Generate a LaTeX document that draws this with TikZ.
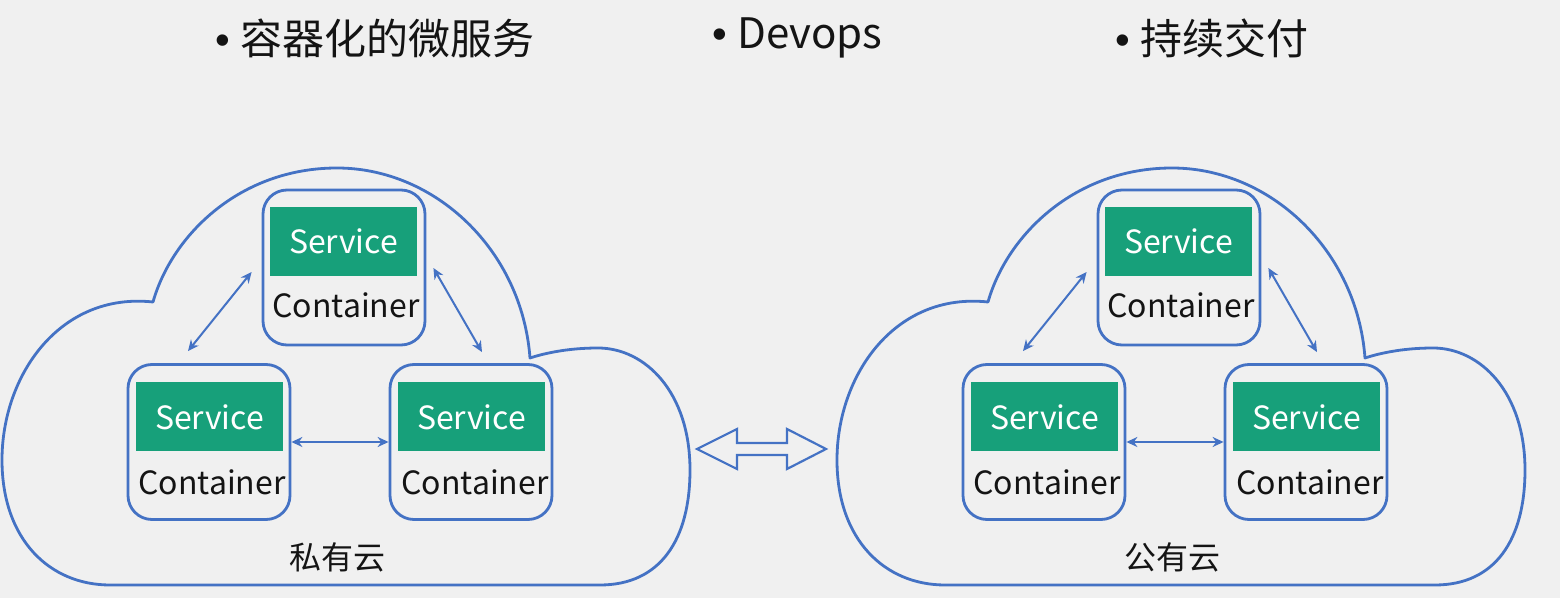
\documentclass[tikz,border=0pt]{standalone}
\usepackage{fontspec}
\setmainfont{Noto Sans CJK SC}
\newfontfamily\bulfont{Liberation Sans}
\usetikzlibrary{arrows.meta,calc}
\definecolor{bg}{HTML}{F0F0F0}
\definecolor{cblue}{HTML}{4472C4}
\definecolor{sgreen}{HTML}{17A07A}
\definecolor{ink}{HTML}{141414}
\newcommand\bigbul{{\bulfont •}\hspace{5pt}}
\tikzset{
 cloudline/.style={draw=cblue, line width=1.4pt, line join=round},
 box/.style={draw=cblue, line width=1.4pt, rounded corners=12pt, minimum width=81pt, minimum height=77.5pt, inner sep=0pt},
 svc/.style={fill=sgreen, text=white, minimum width=73.5pt, minimum height=34.5pt, inner sep=0pt, font=\fontsize{16}{19}\selectfont},
 ctext/.style={font=\fontsize{16}{19}\selectfont, text=ink, inner sep=0pt},
 link/.style={draw=cblue, line width=1pt, {Stealth[length=5.5pt,width=5pt]}-{Stealth[length=5.5pt,width=5pt]}},
 title/.style={font=\fontsize{21}{25}\selectfont, text=ink, anchor=west, inner sep=0pt},
 cloudlabel/.style={font=\fontsize{16}{19}\selectfont, text=ink, inner sep=0pt},
 blockarrow/.style={draw=cblue, line width=1.1pt, line join=miter},
}
\newcommand\mycloud[3]{%
 \begin{scope}[xshift=#1]
  \path[cloudline] (110,585) -- (600,585)
   .. controls (660,585) and (690,540) .. (690,470)
   .. controls (690,392) and (645,348) .. (598,348)
   .. controls (566,348) and (542,354) .. (530,358)
   .. controls (522,250) and (435,168) .. (337,168)
   .. controls (240,168) and (172,235) .. (153,302)
   .. controls (60,292) and (2,375) .. (2,460)
   .. controls (2,540) and (50,585) .. (110,585) -- cycle;
  \node[box] (#2top) at (344,267.5) {};
  \node[box] (#2bl) at (209,442) {};
  \node[box] (#2br) at (471,442) {};
  \node[svc] (#2topS) at (343.5,241.5) {Service};
  \node[svc] (#2blS) at (209.5,417) {Service};
  \node[svc] (#2brS) at (471.5,417) {Service};
  \node[ctext] (#2topC) at (346,305) {Container};
  \node[ctext] (#2blC) at (212,482) {Container};
  \node[ctext] (#2brC) at (475,482) {Container};
  \draw[link] ($(#2top.west)+(-10,4.5)$) -- ($(#2bl.north)+(-21,-12)$);
  \draw[link] ($(#2top.east)+(7,0.5)$) -- ($(#2br.north)+(11,-11)$);
  \draw[link] (#2bl.east) -- (#2br.west);
  \node[cloudlabel] (#2lab) at (337,557) {#3};
 \end{scope}}
\begin{document}
\begin{tikzpicture}[x=0.5pt,y=-0.5pt]
\fill[bg] (0,0) rectangle (1560,598);
\useasboundingbox (0,0) rectangle (1560,598);
\node[title] (t1) at (215,38) {\bigbul 容器化的微服务};
\node[title] (t2) at (712,38) {\bigbul Devops};
\node[title] (t3) at (1115,38) {\bigbul 持续交付};
\mycloud{0pt}{L}{私有云}
\mycloud{417.5pt}{R}{公有云}
\path[blockarrow] (697,449) -- (737,429) -- (737,443) -- (787,443) -- (787,429) -- (826,449) -- (787,469) -- (787,455) -- (737,455) -- (737,469) -- cycle;
\end{tikzpicture}
\end{document}
